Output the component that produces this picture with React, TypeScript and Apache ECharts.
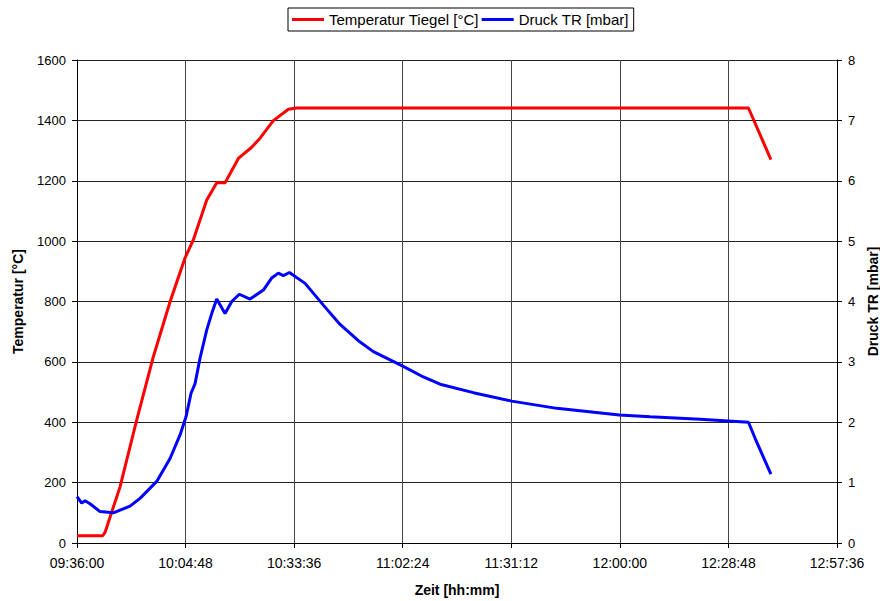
import React, { useEffect, useRef } from "react";
import * as echarts from "echarts";

// Crucible temperature over time
const tempTimes = [
  "09:36:00", "09:42:49", "09:43:26", "09:47:25", "09:51:50", "09:56:15",
  "10:00:41", "10:04:39", "10:06:51", "10:10:25", "10:13:04", "10:15:16",
  "10:18:48", "10:22:21", "10:24:33", "10:28:05", "10:32:04", "10:34:18",
  "12:34:07", "12:40:04",
];
const tempValues = [
  24, 24, 35, 186, 407, 617,
  799, 944, 1004, 1136, 1193, 1193,
  1274, 1311, 1341, 1399, 1437, 1441,
  1441, 1270,
];

// Pressure in the process chamber over time
const pressTimes = [
  "09:36:00", "09:37:15", "09:38:07", "09:39:27", "09:42:06", "09:45:38",
  "09:50:04", "09:52:43", "09:57:09", "10:00:41", "10:03:20", "10:04:55",
  "10:06:15", "10:07:19", "10:08:38", "10:10:25", "10:11:44", "10:13:04",
  "10:15:16", "10:17:03", "10:19:04", "10:21:54", "10:25:26", "10:27:40",
  "10:29:25", "10:30:44", "10:32:20", "10:36:30", "10:41:21", "10:45:47",
  "10:50:38", "10:54:37", "11:02:25", "11:07:53", "11:12:19", "11:21:09",
  "11:31:20", "11:43:17", "11:59:53", "12:08:02", "12:21:18", "12:34:07",
  "12:35:54", "12:40:04",
];
const pressValues = [
  0.77, 0.66, 0.7, 0.65, 0.52, 0.5,
  0.61, 0.74, 1.02, 1.4, 1.79, 2.09,
  2.48, 2.64, 3.06, 3.53, 3.8, 4.04,
  3.8, 4.0, 4.12, 4.04, 4.19, 4.39,
  4.47, 4.43, 4.48, 4.3, 3.94, 3.62,
  3.35, 3.17, 2.93, 2.75, 2.63, 2.49,
  2.35, 2.23, 2.12, 2.09, 2.05, 2.0,
  1.73, 1.14,
];

const xTickStart = "09:36:00";
const xTickEnd = "12:57:36";
const xTickStep = "00:28:48";

const toSec = (s: string) => {
  const [h, m, sec] = s.split(":").map(Number);
  return h * 3600 + m * 60 + sec;
};
const pad = (n: number) => String(n).padStart(2, "0");
const fmt = (v: number) => {
  const h = Math.floor(v / 3600);
  const m = Math.floor((v % 3600) / 60);
  const s = Math.round(v % 60);
  return `${pad(h)}:${pad(m)}:${pad(s)}`;
};

const FONT = "'Liberation Sans', Arial, sans-serif";

export default function App() {
  const ref = useRef<HTMLDivElement>(null);

  useEffect(() => {
    if (!ref.current) return;
    const chart = echarts.init(ref.current, undefined, { renderer: "svg" });

    const tempData = tempTimes.map((t, i) => [toSec(t), tempValues[i]]);
    const pressData = pressTimes.map((t, i) => [toSec(t), pressValues[i]]);

    const axisLabel = { color: "#000", fontFamily: FONT, fontSize: 14 };
    const axisLine = { show: true, lineStyle: { color: "#000", width: 1 } };
    const axisTick = { show: true, inside: false, length: 5, lineStyle: { color: "#000" } };
    const nameStyle = { color: "#000", fontFamily: FONT, fontSize: 14, fontWeight: "bold" };

    chart.setOption({
      animation: false,
      backgroundColor: "#fff",
      textStyle: { fontFamily: FONT },
      grid: {
        left: 77,
        right: 43,
        top: 60,
        bottom: 58,
        containLabel: false,
        outerBoundsMode: "none",
      },
      legend: {
        top: 8,
        left: 288,
        padding: [4, 5, 4, 4],
        borderColor: "#000",
        borderWidth: 1,
        itemGap: 3,
        itemWidth: 32,
        itemHeight: 3,
        icon: "rect",
        textStyle: { color: "#000", fontFamily: FONT, fontSize: 15 },
        data: ["Temperatur Tiegel [°C]", "Druck TR [mbar]"],
      },
      xAxis: {
        type: "value",
        min: toSec(xTickStart),
        max: toSec(xTickEnd),
        interval: toSec(xTickStep),
        name: "Zeit [hh:mm]",
        nameLocation: "middle",
        nameGap: 40,
        nameTextStyle: nameStyle,
        axisLine,
        axisTick,
        axisLabel: { ...axisLabel, margin: 13, formatter: (v: number) => fmt(v) },
        splitLine: { show: true, lineStyle: { color: "#444", width: 1 } },
      },
      yAxis: [
        {
          type: "value",
          min: 0,
          max: 1600,
          interval: 200,
          name: "Temperatur [°C]",
          nameLocation: "middle",
          nameGap: 52,
          nameTextStyle: nameStyle,
          axisLine,
          axisTick,
          axisLabel: { ...axisLabel, fontSize: 13, margin: 11, formatter: (v: number) => String(v) },
          splitLine: { show: true, lineStyle: { color: "#222", width: 1 } },
        },
        {
          type: "value",
          min: 0,
          max: 8,
          interval: 1,
          position: "right",
          name: "Druck TR [mbar]",
          nameLocation: "middle",
          nameGap: 28,
          nameRotate: 90,
          nameTextStyle: nameStyle,
          axisLine,
          axisTick,
          axisLabel: { ...axisLabel, fontSize: 13, margin: 11, formatter: (v: number) => String(v) },
          splitLine: { show: false },
        },
      ],
      series: [
        {
          name: "Temperatur Tiegel [°C]",
          type: "line",
          yAxisIndex: 0,
          data: tempData,
          showSymbol: false,
          symbol: "none",
          lineStyle: { color: "#ff0000", width: 3 },
          itemStyle: { color: "#ff0000" },
        },
        {
          name: "Druck TR [mbar]",
          type: "line",
          yAxisIndex: 1,
          data: pressData,
          showSymbol: false,
          symbol: "none",
          lineStyle: { color: "#0000ff", width: 3 },
          itemStyle: { color: "#0000ff" },
        },
      ],
    });

    return () => chart.dispose();
  }, []);

  return <div ref={ref} style={{ width: 880, height: 601, position: "absolute", left: 0, top: 0 }} />;
}
